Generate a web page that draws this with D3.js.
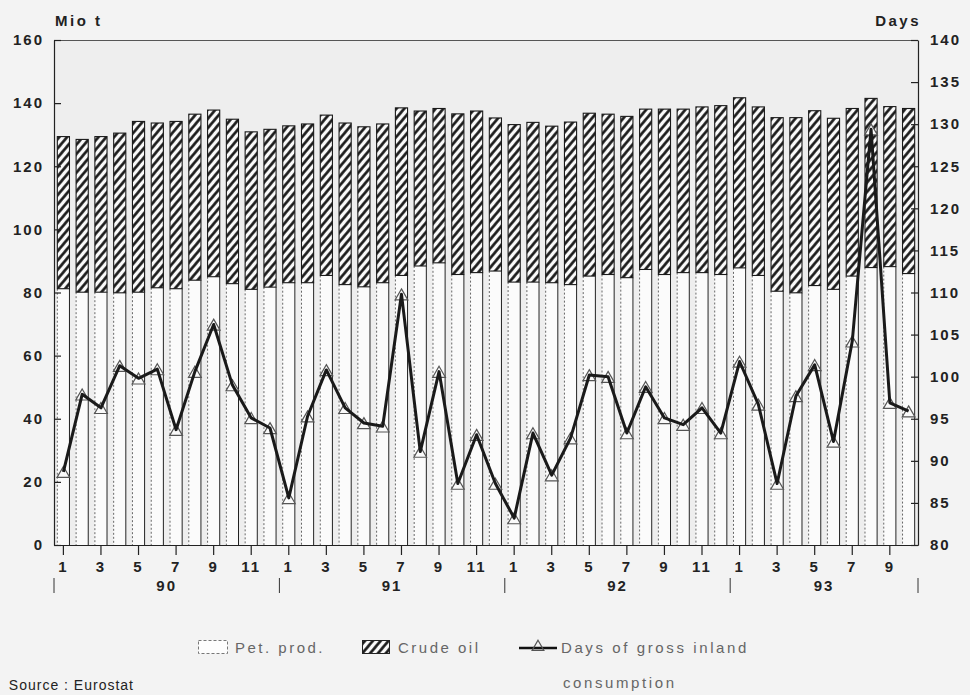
<!DOCTYPE html>
<html><head><meta charset="utf-8">
<script src="https://cdn.jsdelivr.net/npm/d3@7"></script>
<style>
body{margin:0;background:#f3f3f3;}
svg{display:block;}
text{font-family:"Liberation Sans",Arial,sans-serif;}
</style></head><body>
<svg id="chart" width="970" height="695"></svg>
<script>
const months = ["1/90","2/90","3/90","4/90","5/90","6/90","7/90","8/90","9/90","10/90","11/90","12/90",
"1/91","2/91","3/91","4/91","5/91","6/91","7/91","8/91","9/91","10/91","11/91","12/91",
"1/92","2/92","3/92","4/92","5/92","6/92","7/92","8/92","9/92","10/92","11/92","12/92",
"1/93","2/93","3/93","4/93","5/93","6/93","7/93","8/93","9/93","10/93"];
const petProd = [81.2,80.1,80.1,79.9,80.1,81.5,81.2,83.9,85.0,82.8,81.0,81.7,
83.1,83.1,85.4,82.5,81.8,83.1,85.4,88.4,89.4,85.7,86.3,86.8,
83.3,83.3,83.1,82.5,85.2,85.7,84.7,87.3,85.7,86.3,86.3,85.7,
87.8,85.4,80.4,79.9,82.2,81.0,85.2,87.9,88.2,86.0];
const crudeOil = [48.2,48.4,49.3,50.6,54.1,52.2,53.0,52.6,52.8,52.1,49.9,50.0,
49.7,50.3,50.8,51.2,50.7,50.3,53.1,49.1,48.9,50.9,51.2,48.5,
49.9,50.6,49.6,51.5,51.6,50.8,51.1,50.8,52.4,51.8,52.5,53.5,
53.9,53.4,55.0,55.5,55.4,54.2,53.1,53.6,50.7,52.3];
const daysConsumption = [88.7,97.9,96.3,101.3,99.8,100.9,93.7,100.6,106.2,99.0,95.1,93.9,
85.6,95.3,100.8,96.3,94.5,94.1,109.8,91.1,100.6,87.3,93.1,87.3,
83.2,93.3,88.3,92.7,100.2,100.0,93.3,98.8,95.1,94.3,96.3,93.3,
101.8,96.7,87.3,97.7,101.4,92.3,104.2,129.4,96.9,95.9];
const leftTicks = [0,20,40,60,80,100,120,140,160];
const rightTicks = [80,85,90,95,100,105,110,115,120,125,130,135,140];
const yearLabels = ["90","91","92","93"];
const legendLabels = ["Pet. prod.","Crude oil","Days of gross inland","consumption"];
const leftTitle = "Mio t", rightTitle = "Days", sourceText = "Source : Eurostat";

const svg = d3.select("#chart");
const X0 = 54, X1 = 918, Y0 = 545, Y1 = 40;
const x = d3.scaleBand().domain(months).range([X0, X1]).paddingInner(0.3).paddingOuter(0.15);
const y = d3.scaleLinear().domain([0,160]).range([Y0, Y1]);
const y2 = d3.scaleLinear().domain([80,140]).range([Y0, Y1]);
const bw = x.bandwidth();
const step = x.step();

const defs = svg.append("defs");
const pat = defs.append("pattern").attr("id","hatch").attr("patternUnits","userSpaceOnUse")
  .attr("width",6).attr("height",6).attr("patternTransform","rotate(40)");
pat.append("rect").attr("width",6).attr("height",6).attr("fill","#fafafa");
pat.append("line").attr("x1",1.5).attr("x2",1.5).attr("y1",-1).attr("y2",7)
  .attr("stroke","#111").attr("stroke-width",2.6);

// plot background
svg.append("rect").attr("x",X0).attr("y",Y1).attr("width",X1-X0).attr("height",Y0-Y1).attr("fill","#eeeeee");

const data = months.map((m,i)=>({m, p:petProd[i], c:crudeOil[i], d:daysConsumption[i]}));

const bars = svg.append("g");
const g = bars.selectAll("g").data(data).join("g");
g.append("rect").attr("x",d=>x(d.m)).attr("width",bw)
  .attr("y",d=>y(d.p)).attr("height",d=>y(0)-y(d.p)).attr("fill","#fbfbfb");
g.append("line").attr("x1",d=>x(d.m)+0.5).attr("x2",d=>x(d.m)+0.5)
  .attr("y1",d=>y(d.p)).attr("y2",y(0)).attr("stroke","#666").attr("stroke-dasharray","2,2");
g.append("line").attr("x1",d=>x(d.m)+bw-0.5).attr("x2",d=>x(d.m)+bw-0.5)
  .attr("y1",d=>y(d.p)).attr("y2",y(0)).attr("stroke","#222");
g.append("rect").attr("x",d=>x(d.m)+0.5).attr("width",bw-1)
  .attr("y",d=>y(d.p+d.c)).attr("height",d=>y(d.p)-y(d.p+d.c))
  .attr("fill","url(#hatch)").attr("stroke","#1a1a1a").attr("stroke-width",1.1);

// frame top
svg.append("line").attr("x1",X0).attr("x2",X1).attr("y1",Y1+0.5).attr("y2",Y1+0.5).attr("stroke","#555");

// axes
const fontAxis = g0 => g0.selectAll("text").attr("font-size",15).attr("font-weight","bold")
  .attr("fill","#222").attr("letter-spacing","2px");
const la = svg.append("g").attr("transform",`translate(${X0},0)`)
  .call(d3.axisLeft(y).tickValues(leftTicks).tickSizeInner(-7).tickSizeOuter(0).tickPadding(10));
fontAxis(la);
const ra = svg.append("g").attr("transform",`translate(${X1},0)`)
  .call(d3.axisRight(y2).tickValues(rightTicks).tickSizeInner(-7).tickSizeOuter(0).tickPadding(12));
fontAxis(ra);
const ba = svg.append("g").attr("transform",`translate(0,${Y0})`)
  .call(d3.axisBottom(x).tickValues(months.filter(m=>(+m.split("/")[0])%2===1))
  .tickFormat(m=>m.split("/")[0]).tickSize(10).tickSizeOuter(0).tickPadding(6));
fontAxis(ba);
[la,ra,ba].forEach(a=>{a.selectAll("line,path").attr("stroke","#222").attr("stroke-width",1.2);});

// years
yearLabels.forEach(yr=>{
  const idx = months.map((m,i)=>m.split("/")[1]===yr?i:-1).filter(i=>i>=0);
  const a = x(months[idx[0]]) - step*0.15;
  const b = x(months[idx[idx.length-1]]) + bw + step*0.15;
  svg.append("text").attr("x",(a+b)/2).attr("y",591).attr("text-anchor","middle")
    .attr("font-size",15).attr("font-weight","bold").attr("fill","#222").attr("letter-spacing","2px").text(yr);
  svg.append("line").attr("x1",a).attr("x2",a).attr("y1",578).attr("y2",593).attr("stroke","#333");
  if (yr===yearLabels[yearLabels.length-1])
    svg.append("line").attr("x1",b).attr("x2",b).attr("y1",578).attr("y2",593).attr("stroke","#333");
});

// line + markers
const cx = d=>x(d.m)+bw/2;
svg.append("g").selectAll("path").data(data).join("path")
  .attr("d",d3.symbol(d3.symbolTriangle,70))
  .attr("transform",d=>`translate(${cx(d)},${y2(d.d)+2})`)
  .attr("fill","#fafafa").attr("stroke","#555").attr("stroke-width",1.2);
svg.append("path").datum(data)
  .attr("d",d3.line().x(cx).y(d=>y2(d.d)))
  .attr("fill","none").attr("stroke","#1a1a1a").attr("stroke-width",3).attr("stroke-linejoin","round");

// titles
svg.append("text").attr("x",55).attr("y",26).attr("font-size",15).attr("font-weight","bold")
  .attr("fill","#222").attr("letter-spacing","2.5px").text(leftTitle);
svg.append("text").attr("x",921).attr("y",26).attr("text-anchor","end").attr("font-size",15).attr("font-weight","bold")
  .attr("fill","#222").attr("letter-spacing","2.5px").text(rightTitle);

// legend
const lg = svg.append("g");
lg.append("rect").attr("x",198.5).attr("y",640.5).attr("width",29).attr("height",13)
  .attr("fill","#fdfdfd").attr("stroke","#777").attr("stroke-dasharray","3,2");
lg.append("text").attr("x",235).attr("y",653).attr("font-size",15).attr("fill","#666").attr("letter-spacing","2.5px").text(legendLabels[0]);
lg.append("rect").attr("x",362.5).attr("y",640.5).attr("width",27).attr("height",13)
  .attr("fill","url(#hatch)").attr("stroke","#222");
lg.append("text").attr("x",398).attr("y",653).attr("font-size",15).attr("fill","#666").attr("letter-spacing","2.5px").text(legendLabels[1]);
lg.append("line").attr("x1",519).attr("x2",557).attr("y1",648).attr("y2",648).attr("stroke","#111").attr("stroke-width",2.5);
lg.append("path").attr("d",d3.symbol(d3.symbolTriangle,60)).attr("transform","translate(538,647)")
  .attr("fill","none").attr("stroke","#555").attr("stroke-width",1.2);
lg.append("text").attr("x",561).attr("y",653).attr("font-size",15).attr("fill","#666").attr("letter-spacing","2.6px").text(legendLabels[2]);
lg.append("text").attr("x",563).attr("y",688).attr("font-size",15).attr("fill","#666").attr("letter-spacing","2.6px").text(legendLabels[3]);

// source
svg.append("text").attr("x",134).attr("y",690).attr("text-anchor","end").attr("font-size",14)
  .attr("fill","#222").attr("letter-spacing","1px").text(sourceText);
</script>
</body></html>
